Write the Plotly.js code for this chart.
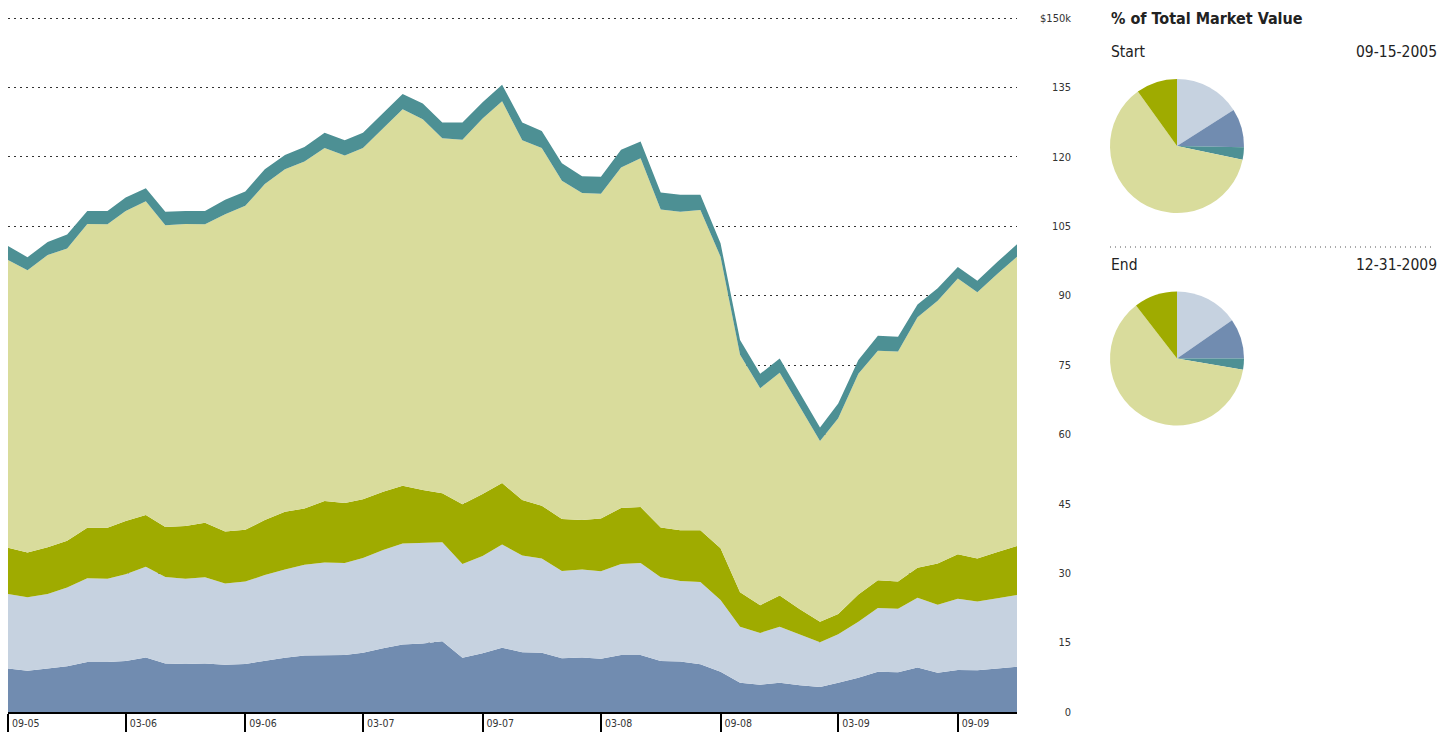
<!DOCTYPE html>
<html>
<head>
<meta charset="utf-8">
<script src="https://cdn.plot.ly/plotly-3.0.1.min.js"></script>
<style>
  html, body { margin: 0; padding: 0; background: #fff; }
  #chart { width: 1440px; height: 732px; }
</style>
</head>
<body>
<div id="chart"></div>
<script>
// monthly points, Sep 2005 .. Dec 2009
const months = [
  '2005-09', '2005-10', '2005-11', '2005-12',
  '2006-01', '2006-02', '2006-03', '2006-04', '2006-05', '2006-06',
  '2006-07', '2006-08', '2006-09', '2006-10', '2006-11', '2006-12',
  '2007-01', '2007-02', '2007-03', '2007-04', '2007-05', '2007-06',
  '2007-07', '2007-08', '2007-09', '2007-10', '2007-11', '2007-12',
  '2008-01', '2008-02', '2008-03', '2008-04', '2008-05', '2008-06',
  '2008-07', '2008-08', '2008-09', '2008-10', '2008-11', '2008-12',
  '2009-01', '2009-02', '2009-03', '2009-04', '2009-05', '2009-06',
  '2009-07', '2009-08', '2009-09', '2009-10', '2009-11', '2009-12'
]

// values in $k, one layer each (bottom to top)
const slate = [
  9.4, 8.9, 9.4, 9.9, 10.8, 10.8, 11.0, 11.8, 10.5, 10.4,
  10.5, 10.2, 10.4, 11.1, 11.7, 12.2, 12.3, 12.3, 12.8, 13.8,
  14.6, 14.8, 15.3, 11.7, 12.7, 13.9, 12.9, 12.8, 11.6, 11.8,
  11.5, 12.3, 12.3, 11.0, 10.9, 10.3, 8.7, 6.3, 5.9, 6.3,
  5.8, 5.4, 6.3, 7.4, 8.7, 8.6, 9.6, 8.5, 9.1, 9.0,
  9.4, 9.8
]
const mist = [
  16.1, 15.9, 16.1, 17.0, 18.1, 18.0, 18.8, 19.6, 18.7, 18.4,
  18.6, 17.6, 17.8, 18.5, 19.1, 19.6, 20.0, 19.9, 20.5, 21.2,
  21.8, 21.7, 21.4, 20.3, 21.0, 22.3, 20.9, 20.4, 18.9, 19.0,
  18.9, 19.7, 19.9, 18.1, 17.4, 17.8, 15.5, 12.1, 11.2, 12.1,
  10.9, 9.7, 10.5, 12.1, 13.8, 13.7, 15.1, 14.7, 15.4, 14.9,
  15.2, 15.5
]
const olive = [
  10.0, 9.7, 10.1, 10.1, 10.9, 11.0, 11.5, 11.2, 10.8, 11.4,
  11.8, 11.2, 11.2, 11.9, 12.5, 12.2, 13.3, 13.0, 12.7, 12.6,
  12.5, 11.5, 10.6, 12.9, 13.4, 13.3, 12.0, 11.4, 11.2, 10.7,
  11.4, 12.1, 12.1, 10.8, 11.0, 11.2, 11.2, 7.5, 6.0, 6.8,
  5.5, 4.4, 4.4, 5.9, 6.0, 5.9, 6.5, 8.9, 9.6, 9.3,
  10.0, 10.6
]
const sage = [
  62.2, 61.0, 63.2, 63.2, 65.7, 65.6, 67.0, 67.8, 65.2, 65.3,
  64.5, 68.6, 70.0, 72.6, 74.0, 75.0, 76.3, 75.1, 75.9, 78.6,
  81.4, 80.1, 76.7, 78.8, 81.2, 82.5, 77.8, 77.3, 73.1, 70.7,
  70.2, 73.6, 75.4, 68.7, 68.8, 69.2, 63.0, 51.3, 46.9, 48.1,
  43.7, 39.1, 42.3, 47.7, 49.6, 49.7, 54.1, 56.8, 59.6, 57.5,
  60.1, 62.5
]
const teal = [
  3.0, 2.8, 2.8, 3.0, 2.8, 2.9, 2.9, 2.8, 2.9, 2.8,
  2.9, 3.1, 3.1, 3.2, 3.1, 3.1, 3.3, 3.3, 3.3, 3.3,
  3.3, 3.4, 3.4, 3.7, 3.5, 3.6, 3.8, 3.7, 3.8, 3.6,
  3.7, 3.8, 3.6, 3.7, 3.7, 3.3, 2.9, 3.2, 3.1, 3.1,
  3.0, 2.9, 3.2, 3.0, 3.2, 3.2, 2.8, 2.7, 2.5, 2.5,
  2.6, 2.7
]

const yTicks = [0, 15, 30, 45, 60, 75, 90, 105, 120, 135, 150]
const yTickText = ['0', '15', '30', '45', '60', '75', '90', '105', '120', '135', '$150k']

const startDate = '09-15-2005'
const endDate = '12-31-2009'

const colors = {
  slate: '#718cb0',
  mist: '#c6d2e0',
  olive: '#9fab00',
  sage: '#d9dc9c',
  teal: '#4d9094'
}
const FONT = '"Liberation Sans Narrow", "DejaVu Sans Condensed", "Arial Narrow", sans-serif'

const layers = [
  ['slate', slate], ['mist', mist], ['olive', olive], ['sage', sage], ['teal', teal]
]

const traces = layers.map(([name, vals]) => ({
  type: 'scatter',
  mode: 'lines',
  name: name,
  x: months,
  y: vals,
  stackgroup: 'one',
  fillcolor: colors[name],
  line: { width: 0, color: colors[name] },
  hoverinfo: 'skip',
  showlegend: false
}))

// pies: first and last month, slices clockwise from 12 o'clock
const pieOrder = ['mist', 'slate', 'teal', 'sage', 'olive']
const series = { slate, mist, olive, sage, teal }
function pie(idx, domainY) {
  return {
    type: 'pie',
    values: pieOrder.map(k => series[k][idx]),
    labels: pieOrder,
    marker: { colors: pieOrder.map(k => colors[k]), line: { width: 0 } },
    sort: false,
    direction: 'clockwise',
    rotation: 0,
    textinfo: 'none',
    hoverinfo: 'skip',
    showlegend: false,
    domain: { x: [1110 / 1440, 1244 / 1440], y: domainY }
  }
}
traces.push(pie(0, [(732 - 213) / 732, (732 - 79) / 732]))
traces.push(pie(months.length - 1, [(732 - 426) / 732, (732 - 291) / 732]))

const txt = (text, x, y, anchor, size, bold) => ({
  text: bold ? '<b>' + text + '</b>' : text,
  xref: 'paper', yref: 'paper',
  x: x / 1440, y: 1 - y / 732,
  xanchor: anchor, yanchor: 'middle',
  showarrow: false,
  font: { family: FONT, size: size, color: '#222' }
})

const layout = {
  width: 1440,
  height: 732,
  margin: { l: 0, r: 0, t: 0, b: 0 },
  paper_bgcolor: '#fff',
  plot_bgcolor: 'rgba(0,0,0,0)',
  xaxis: {
    type: 'date',
    domain: [8 / 1440, 1017 / 1440],
    range: ['2005-09-01', '2009-12-01'],
    tick0: '2005-09-01',
    dtick: 'M6',
    tickformat: '%m-%y',
    ticks: 'outside',
    ticklen: 20,
    tickwidth: 2,
    tickcolor: '#000',
    ticklabelposition: 'outside right',
    ticklabelshift: 2,
    tickfont: { family: FONT, size: 10.5, color: '#333' },
    showline: true,
    linecolor: '#000',
    linewidth: 2,
    showgrid: false,
    zeroline: false,
    fixedrange: true
  },
  yaxis: {
    // top a hair above 150 so the 150 gridline is still drawn
    domain: [20 / 732, 716.3 / 732],
    range: [0, 150.5],
    anchor: 'free',
    position: 1071 / 1440,
    side: 'left',
    tickmode: 'array',
    tickvals: yTicks,
    ticktext: yTickText,
    ticks: '',
    tickfont: { family: FONT, size: 11, color: '#333' },
    showline: false,
    showgrid: true,
    gridcolor: '#333',
    gridwidth: 1,
    griddash: '2px,4px',
    zeroline: false,
    fixedrange: true
  },
  shapes: [{
    type: 'line', xref: 'paper', yref: 'paper',
    x0: 1110 / 1440, x1: 1434 / 1440,
    y0: 1 - 247 / 732, y1: 1 - 247 / 732,
    line: { color: '#555', width: 1, dash: '1px,4px' }
  }],
  annotations: [
    txt('% of Total Market Value', 1109, 18, 'left', 16, true),
    txt('Start', 1109, 52, 'left', 15.5),
    txt(startDate, 1439, 52, 'right', 15.5),
    txt('End', 1109, 265, 'left', 15.5),
    txt(endDate, 1439, 265, 'right', 15.5)
  ]
}

Plotly.newPlot('chart', traces, layout, { displayModeBar: false, staticPlot: true })
</script>
</body>
</html>
